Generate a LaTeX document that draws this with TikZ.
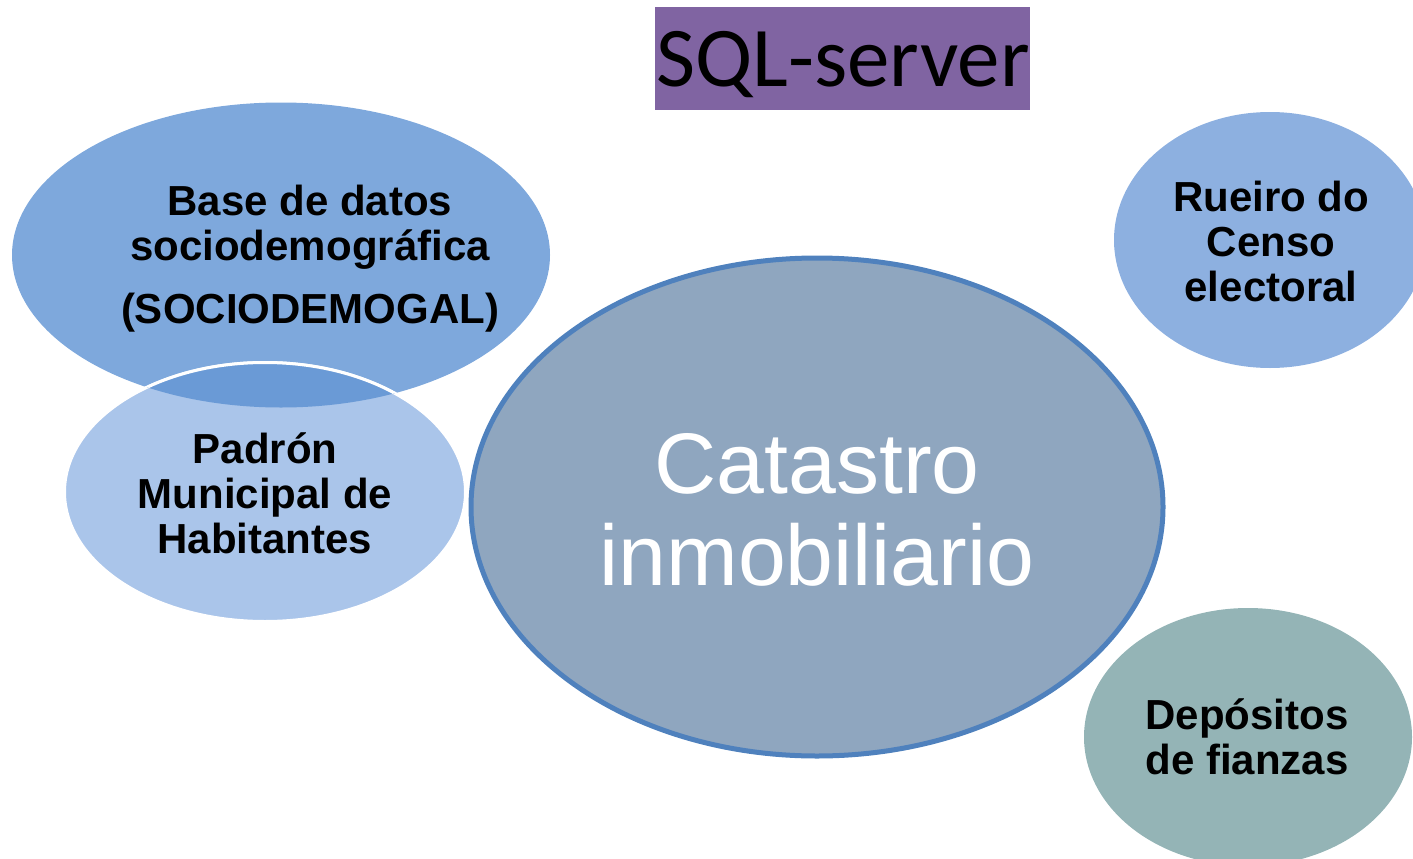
\documentclass[tikz,border=0pt]{standalone}
\usepackage{fontspec}
\setmainfont{Liberation Sans}
\newfontfamily\titlefont{Carlito}
\usetikzlibrary{shapes.geometric}
\definecolor{baseC}{HTML}{7EA8DC}
\definecolor{padC}{HTML}{AAC5EA}
\definecolor{interC}{HTML}{6A9AD6}
\definecolor{catC}{HTML}{8FA6BF}
\definecolor{catLine}{HTML}{4F81BD}
\definecolor{rueC}{HTML}{8DB0E0}
\definecolor{depC}{HTML}{94B4B6}
\definecolor{titleC}{HTML}{8064A2}
\begin{document}
\begin{tikzpicture}[x=1pt,y=-1pt,
  blob/.style={ellipse, inner sep=0pt},
  lbl/.style={align=center, inner sep=0pt, font=\fontsize{42}{45}\selectfont\bfseries},
  biglbl/.style={align=center, inner sep=0pt, text=white, font=\fontsize{86}{92}\selectfont}]
\useasboundingbox (0,0) rectangle (1413,859);
\clip (0,0) rectangle (1413,859);
% title
\node[fill=titleC, minimum width=375pt, minimum height=103pt, inner sep=0pt] (title) at (842.5,58.5) {};
\node[inner sep=0pt, font=\titlefont\fontsize{85}{90}\selectfont] (titleT) at (843,65) {SQL-server};
% base de datos
\node[blob, fill=baseC, minimum width=538pt, minimum height=305pt] (base) at (281,255) {};
% padron
\node[blob, fill=padC, draw=white, line width=3pt, minimum width=401pt, minimum height=259pt] (pad) at (265,492) {};
\begin{scope}
  \clip (281,255) ellipse [x radius=269pt, y radius=152.5pt];
  \fill[interC] (265,492) ellipse [x radius=200.5pt, y radius=129.5pt];
  \draw[white, line width=3pt] (265,492) ellipse [x radius=200.5pt, y radius=129.5pt];
\end{scope}
% catastro
\node[blob, fill=catC, draw=catLine, line width=5pt, minimum width=692pt, minimum height=498pt] (cat) at (817,507) {};
% rueiro
\node[blob, fill=rueC, minimum width=312pt, minimum height=256pt] (rue) at (1270,240) {};
% depositos
\node[blob, fill=depC, minimum width=328pt, minimum height=258pt] (dep) at (1248,737) {};
% texts
\node[lbl] (baseT) at (310,259) {Base de datos\\ sociodemográfica\\[18pt] (SOCIODEMOGAL)};
\node[lbl] (padT) at (265,493) {Padrón\\ Municipal de\\ Habitantes};
\node[lbl] (rueT) at (1271,241) {Rueiro do\\ Censo\\ electoral};
\node[lbl] (depT) at (1247,737) {Depósitos\\ de fianzas};
\node[biglbl] (catT) at (817,510) {Catastro\\ inmobiliario};
\end{tikzpicture}
\end{document}
